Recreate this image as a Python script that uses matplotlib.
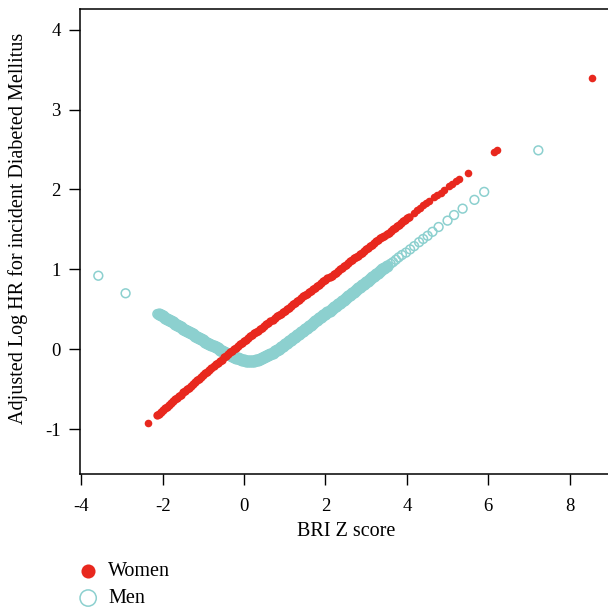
import matplotlib
matplotlib.use("Agg")
import matplotlib.pyplot as plt

plt.rcParams["font.family"] = ["Liberation Serif", "DejaVu Serif"]
plt.rcParams["axes.unicode_minus"] = False

# Women: dense run of points plus a few isolated ones
women_x_dense = [-2.15, -2.10, -2.05, -2.00, -1.95, -1.90, -1.85, -1.80, -1.75, -1.70,
                 -1.65, -1.60, -1.55, -1.50, -1.45, -1.40, -1.35, -1.30, -1.25, -1.20,
                 -1.15, -1.10, -1.05, -1.00, -0.95, -0.90, -0.85, -0.80, -0.75, -0.70,
                 -0.65, -0.60, -0.55, -0.50, -0.45, -0.40, -0.35, -0.30, -0.25, -0.20,
                 -0.15, -0.10, -0.05, 0.00, 0.05, 0.10, 0.15, 0.20, 0.25, 0.30,
                 0.35, 0.40, 0.45, 0.50, 0.55, 0.60, 0.65, 0.70, 0.75, 0.80,
                 0.85, 0.90, 0.95, 1.00, 1.05, 1.10, 1.15, 1.20, 1.25, 1.30,
                 1.35, 1.40, 1.45, 1.50, 1.55, 1.60, 1.65, 1.70, 1.75, 1.80,
                 1.85, 1.90, 1.95, 2.00, 2.05, 2.10, 2.15, 2.20, 2.25, 2.30,
                 2.35, 2.40, 2.45, 2.50, 2.55, 2.60, 2.65, 2.70, 2.75, 2.80,
                 2.85, 2.90, 2.95, 3.00, 3.05, 3.10, 3.15, 3.20, 3.25, 3.30,
                 3.35, 3.40, 3.45, 3.50, 3.55, 3.60, 3.65, 3.70, 3.75, 3.80,
                 3.85, 3.90, 3.95, 4.00, 4.05]
women_y_dense = [-0.83, -0.81, -0.79, -0.76, -0.74, -0.72, -0.70, -0.68, -0.65, -0.63,
                 -0.61, -0.59, -0.57, -0.54, -0.52, -0.50, -0.48, -0.46, -0.43, -0.41,
                 -0.39, -0.37, -0.35, -0.32, -0.30, -0.28, -0.26, -0.24, -0.21, -0.19,
                 -0.17, -0.15, -0.13, -0.10, -0.08, -0.06, -0.04, -0.02, 0.00, 0.02,
                 0.04, 0.06, 0.08, 0.10, 0.12, 0.14, 0.16, 0.18, 0.20, 0.21,
                 0.23, 0.25, 0.27, 0.29, 0.31, 0.33, 0.35, 0.37, 0.39, 0.41,
                 0.43, 0.44, 0.46, 0.48, 0.50, 0.52, 0.54, 0.56, 0.58, 0.60,
                 0.62, 0.64, 0.66, 0.68, 0.69, 0.71, 0.73, 0.75, 0.77, 0.79,
                 0.81, 0.83, 0.85, 0.87, 0.89, 0.91, 0.92, 0.94, 0.96, 0.98,
                 1.00, 1.02, 1.04, 1.06, 1.08, 1.10, 1.12, 1.14, 1.16, 1.17,
                 1.19, 1.21, 1.23, 1.25, 1.27, 1.29, 1.31, 1.33, 1.35, 1.37,
                 1.39, 1.41, 1.42, 1.44, 1.46, 1.48, 1.50, 1.52, 1.54, 1.56,
                 1.58, 1.60, 1.62, 1.64, 1.65]
women_x_tail = [-2.36, 4.18, 4.25, 4.32, 4.40, 4.48, 4.55, 4.67, 4.75, 4.83, 4.92,
                5.04, 5.12, 5.20, 5.29, 5.49, 6.15, 6.22, 8.55]
women_y_tail = [-0.92, 1.71, 1.74, 1.77, 1.80, 1.83, 1.85, 1.90, 1.93, 1.96, 1.99,
                2.04, 2.07, 2.10, 2.13, 2.21, 2.47, 2.50, 3.40]

# Men: dense curve plus isolated points
men_x_dense = [-2.10, -2.05, -2.00, -1.95, -1.90, -1.85, -1.80, -1.75, -1.70, -1.65,
               -1.60, -1.55, -1.50, -1.45, -1.40, -1.35, -1.30, -1.25, -1.20, -1.15,
               -1.10, -1.05, -1.00, -0.95, -0.90, -0.85, -0.80, -0.75, -0.70, -0.65,
               -0.60, -0.55, -0.50, -0.45, -0.40, -0.35, -0.30, -0.25, -0.20, -0.15,
               -0.10, -0.05, 0.00, 0.05, 0.10, 0.15, 0.20, 0.25, 0.30, 0.35,
               0.40, 0.45, 0.50, 0.55, 0.60, 0.65, 0.70, 0.75, 0.80, 0.85,
               0.90, 0.95, 1.00, 1.05, 1.10, 1.15, 1.20, 1.25, 1.30, 1.35,
               1.40, 1.45, 1.50, 1.55, 1.60, 1.65, 1.70, 1.75, 1.80, 1.85,
               1.90, 1.95, 2.00, 2.05, 2.10, 2.15, 2.20, 2.25, 2.30, 2.35,
               2.40, 2.45, 2.50, 2.55, 2.60, 2.65, 2.70, 2.75, 2.80, 2.85,
               2.90, 2.95, 3.00, 3.05, 3.10, 3.15, 3.20, 3.25, 3.30, 3.35,
               3.40, 3.45, 3.50]
men_y_dense = [0.441, 0.426, 0.411, 0.396, 0.381, 0.365, 0.350, 0.335, 0.320, 0.305,
               0.290, 0.274, 0.259, 0.244, 0.229, 0.214, 0.199, 0.184, 0.170, 0.155,
               0.140, 0.125, 0.110, 0.096, 0.081, 0.067, 0.052, 0.038, 0.024, 0.010,
               -0.004, -0.018, -0.031, -0.044, -0.057, -0.070, -0.082, -0.094, -0.105, -0.115,
               -0.124, -0.132, -0.140, -0.145, -0.149, -0.150, -0.149, -0.146, -0.141, -0.134,
               -0.125, -0.114, -0.102, -0.088, -0.074, -0.058, -0.043, -0.026, -0.009, 0.008,
               0.026, 0.044, 0.062, 0.080, 0.098, 0.117, 0.136, 0.155, 0.174, 0.193,
               0.212, 0.231, 0.250, 0.269, 0.289, 0.308, 0.327, 0.347, 0.366, 0.386,
               0.405, 0.425, 0.445, 0.464, 0.484, 0.504, 0.524, 0.543, 0.563, 0.583,
               0.603, 0.622, 0.642, 0.662, 0.682, 0.701, 0.721, 0.741, 0.761, 0.780,
               0.800, 0.820, 0.840, 0.860, 0.880, 0.899, 0.919, 0.939, 0.959, 0.979,
               0.998, 1.018, 1.038]
men_x_tail = [-3.58, -2.91, -2.13, 3.60, 3.66, 3.73, 3.80, 3.88, 3.98, 4.08, 4.18,
              4.30, 4.40, 4.51, 4.63, 4.78, 5.00, 5.16, 5.37, 5.66, 5.90, 7.23]
men_y_tail = [0.92, 0.70, 0.44, 1.07, 1.09, 1.12, 1.15, 1.18, 1.21, 1.25, 1.29,
              1.34, 1.38, 1.42, 1.47, 1.53, 1.61, 1.68, 1.76, 1.87, 1.97, 2.49]

red = "#E8281E"
cyan = "#8CD0CF"

fig = plt.figure(figsize=(6.08, 6.07), dpi=100)
ax = fig.add_axes([80 / 608, 1 - 474 / 607, 532 / 608, 465 / 607])

# overlapping points in the dense part read as a solid band
ax.scatter(men_x_dense, men_y_dense, s=78, color=cyan, linewidths=0, zorder=2)
hm = ax.scatter(men_x_tail, men_y_tail, s=40, facecolors="none", edgecolors=cyan,
                linewidths=1.1, zorder=2)
ax.scatter(women_x_dense, women_y_dense, s=36, color=red, linewidths=0, zorder=3)
hw = ax.scatter(women_x_tail, women_y_tail, s=30, color=red, linewidths=0, zorder=3)

ax.set_xlim(-4.03, 9.04)
ax.set_ylim(-1.563, 4.26)
ax.set_xticks([-4, -2, 0, 2, 4, 6, 8])
ax.set_yticks([-1, 0, 1, 2, 3, 4])
ax.tick_params(direction="out", length=8, width=1, labelsize=13.5)
ax.tick_params(axis="x", pad=9)
ax.tick_params(axis="y", pad=6)
for sp in ax.spines.values():
    sp.set_linewidth(1.1)

ax.set_xlabel("BRI Z score", fontsize=14.5, labelpad=5)
fig.text(18 / 608, 1 - 228 / 607, "Adjusted Log HR for incident Diabeted Mellitus",
         rotation=90, ha="center", va="center", fontsize=14.5)

fig.legend([hw, hm], ["Women", "Men"], loc="upper left",
           bbox_to_anchor=(66 / 608, 1 - 552 / 607), frameon=False,
           fontsize=14.5, markerscale=1.85, handletextpad=0.4, labelspacing=0.4,
           borderpad=0, handlelength=1.2)

fig.savefig("out.png", dpi=100)
